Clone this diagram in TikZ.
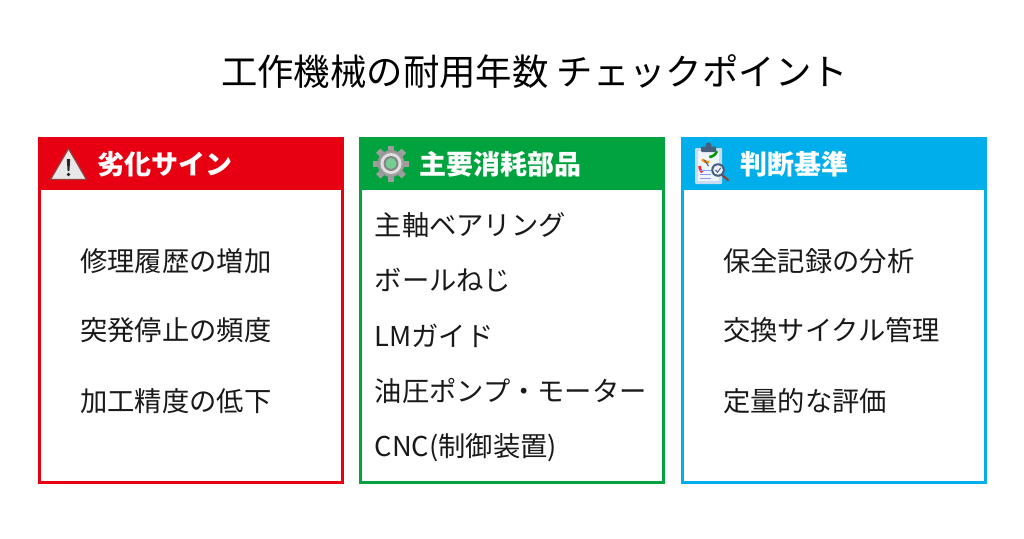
\documentclass[tikz,border=0pt]{standalone}
\usepackage{fontspec}
\setmainfont{Noto Sans CJK JP}
\usetikzlibrary{calc}
\definecolor{cred}{RGB}{230,0,18}
\definecolor{cgreen}{RGB}{0,163,62}
\definecolor{cblue}{RGB}{0,174,235}
\definecolor{boardc}{RGB}{200,220,245}
\definecolor{clipc}{RGB}{70,95,125}
\tikzset{
 x=1pt,y=-1pt,
 headtext/.style={text=white,font=\fontsize{27pt}{30pt}\selectfont\bfseries,anchor=west,inner sep=0},
 item/.style={font=\fontsize{27.3pt}{30pt}\selectfont,text=black!90,anchor=west,inner sep=0},
}
\begin{document}
\begin{tikzpicture}
\useasboundingbox (0,0) rectangle (1024,538);
\fill[white] (0,0) rectangle (1024,538);
\node[anchor=center,inner sep=0,font=\fontsize{36.4pt}{40pt}\selectfont] (title) at (534.5,72) {工作機械の耐用年数 チェックポイント};
% panels
\draw[cred,line width=3pt,fill=white] (39,138) rectangle (342,482.5);
\fill[cred] (37.5,136.5) rectangle (343.5,189.5);
\draw[cgreen,line width=3pt,fill=white] (360,138) rectangle (663,482.5);
\fill[cgreen] (358.5,136.5) rectangle (664.5,189.5);
\draw[cblue,line width=3pt,fill=white] (682,138) rectangle (985,482.5);
\fill[cblue] (680.5,136.5) rectangle (986.5,189.5);
\node[headtext] (h1) at (97.5,164.5) {劣化サイン};
\node[headtext] (h2) at (419,164.5) {主要消耗部品};
\node[headtext] (h3) at (740,164.5) {判断基準};
% warning icon
\draw[fill=black!9,draw=red!45!black!75,line width=1.3pt,line join=round] (68.5,148.5) -- (86.5,179.5) -- (50.5,179.5) -- cycle;
\fill[black!85] (66.8,159) -- (70.2,159) -- (69.4,171) -- (67.6,171) -- cycle;
\fill[black!85] (68.5,174.5) circle (1.8);
% gear
\foreach \a in {0,45,...,315}{
 \fill[black!38,rotate around={\a:(391,163.5)}] (388,145.5) rectangle (394,181.5);
}
\shade[inner color=black!15,outer color=black!42] (391,163.5) circle (13.5);
\fill[black!12] (391,163.5) circle (10.5);
\fill[black!48] (391,163.5) circle (7.5);
\fill[cgreen!55!white] (391,163.5) circle (5.5);
% clipboard
\fill[boardc,rounded corners=1pt] (695,148) rectangle (722,184);
\fill[white!70!boardc] (698,151) rectangle (719,181);
\fill[clipc,rounded corners=1pt] (701,146.5) rectangle (716,152);
\fill[clipc] (708.5,145.5) circle (3);
\draw[line width=2.6pt,red!85] (699.5,166) arc (180:135:9);
\draw[line width=2.6pt,orange!90!yellow] (702.1,159.6) arc (135:85:9);
\draw[line width=2.6pt,green!60!black] (709.3,157) arc (85:20:9);
\draw[line width=1pt,clipc] (708.5,166) -- (704.5,160);
\draw[line width=1pt,boardc!70!blue] (700,170) -- (711,170) (700,174) -- (711,174) (700,178) -- (711,178);
\draw[line width=2pt,red!55!black!80] (722,175) -- (728.5,180.5);
\fill[clipc] (718,170) circle (6.8);
\fill[blue!6] (718,170) circle (4.8);
\draw[line width=1pt,clipc] (715.5,170) -- (717.4,172.2) -- (720.8,167.8);
% items
\foreach \t/\y/\n in {修理履歴の増加/261/a1,突発停止の頻度/330/a2,加工精度の低下/401/a3}
 \node[item] (\n) at (80,\y) {\t};
\foreach \t/\y/\n in {主軸ベアリング/225.5/b1,ボールねじ/280.5/b2,LMガイド/336/b3,油圧ポンプ・モーター/390.5/b4,CNC(制御装置)/448/b5}
 \node[item] (\n) at (374.5,\y) {\t};
\foreach \t/\y/\n in {保全記録の分析/261/c1,交換サイクル管理/330/c2,定量的な評価/401/c3}
 \node[item] (\n) at (723,\y) {\t};
\end{tikzpicture}
\end{document}
